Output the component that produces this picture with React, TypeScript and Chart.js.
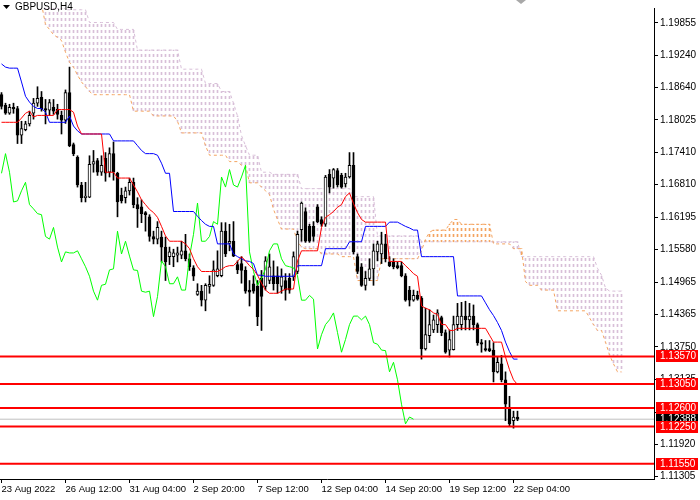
import React, { useEffect, useRef } from 'react';
import { Chart, registerables } from 'chart.js';

Chart.register(...registerables);

// GBPUSD H4 candles, bar index 0 = 23 Aug 2022 20:00
const opens = [
  1.1850, 1.1830, 1.1815, 1.1826, 1.1824, 1.1774, 1.1784, 1.1795, 1.1815, 1.1834,
  1.1845, 1.1824, 1.1821, 1.1826, 1.1823, 1.1811, 1.1802, 1.1854, 1.1756, 1.1732,
  1.1680, 1.1656, 1.1657, 1.1719, 1.1726, 1.1704, 1.1730, 1.1704, 1.1739, 1.1702,
  1.1661, 1.1656, 1.1669, 1.1685, 1.1643, 1.1639, 1.1628, 1.1620, 1.1583, 1.1578,
  1.1582, 1.1563, 1.1545, 1.1545, 1.1548, 1.1548, 1.1556, 1.1541, 1.1524, 1.1474,
  1.1480, 1.1463, 1.1489, 1.1491, 1.1509, 1.1509, 1.1593, 1.1570, 1.1574, 1.1530,
  1.1532, 1.1519, 1.1482, 1.1494, 1.1489, 1.1504, 1.1489, 1.1500, 1.1509, 1.1509,
  1.1489, 1.1500, 1.1504, 1.1507, 1.1517, 1.1596, 1.1630, 1.1602, 1.1602, 1.1639,
  1.1615, 1.1606, 1.1700, 1.1693, 1.1707, 1.1698, 1.1682, 1.1695, 1.1717, 1.1545,
  1.1526, 1.1491, 1.1504, 1.1522, 1.1554, 1.1550, 1.1569, 1.1535, 1.1535, 1.1528,
  1.1528, 1.1509, 1.1482, 1.1463, 1.1472, 1.1467, 1.1371, 1.1396, 1.1407, 1.1417,
  1.1430, 1.1402, 1.1369, 1.1370, 1.1417, 1.1417, 1.1433, 1.1426, 1.1433, 1.1417,
  1.1383, 1.1372, 1.1372, 1.1369, 1.1328, 1.1343, 1.1313, 1.1260, 1.1236, 1.1243,
];
const highs = [
  1.1854, 1.1834, 1.1832, 1.1834, 1.1828, 1.1800, 1.1800, 1.1819, 1.1843, 1.1865,
  1.1856, 1.1841, 1.1841, 1.1841, 1.1832, 1.1819, 1.1859, 1.1902, 1.1759, 1.1735,
  1.1685, 1.1685, 1.1735, 1.1745, 1.1730, 1.1735, 1.1741, 1.1750, 1.1761, 1.1704,
  1.1674, 1.1676, 1.1693, 1.1693, 1.1656, 1.1652, 1.1630, 1.1624, 1.1593, 1.1611,
  1.1593, 1.1582, 1.1563, 1.1559, 1.1563, 1.1574, 1.1587, 1.1550, 1.1528, 1.1494,
  1.1491, 1.1494, 1.1509, 1.1537, 1.1556, 1.1609, 1.1609, 1.1606, 1.1611, 1.1537,
  1.1545, 1.1526, 1.1500, 1.1509, 1.1500, 1.1519, 1.1545, 1.1550, 1.1537, 1.1526,
  1.1522, 1.1513, 1.1513, 1.1554, 1.1593, 1.1648, 1.1637, 1.1606, 1.1611, 1.1643,
  1.1620, 1.1698, 1.1709, 1.1711, 1.1711, 1.1702, 1.1702, 1.1741, 1.1741, 1.1550,
  1.1532, 1.1517, 1.1541, 1.1569, 1.1574, 1.1591, 1.1587, 1.1545, 1.1541, 1.1535,
  1.1535, 1.1513, 1.1489, 1.1482, 1.1480, 1.1470, 1.1448, 1.1445, 1.1435, 1.1445,
  1.1433, 1.1407, 1.1407, 1.1433, 1.1457, 1.1459, 1.1461, 1.1457, 1.1454, 1.1420,
  1.1389, 1.1387, 1.1387, 1.1383, 1.1356, 1.1359, 1.1328, 1.1282, 1.1254, 1.1254,
];
const lows = [
  1.1823, 1.1813, 1.1813, 1.1815, 1.1758, 1.1758, 1.1782, 1.1791, 1.1804, 1.1828,
  1.1819, 1.1795, 1.1811, 1.1813, 1.1804, 1.1776, 1.1796, 1.1752, 1.1735, 1.1676,
  1.1648, 1.1648, 1.1656, 1.1704, 1.1698, 1.1698, 1.1687, 1.1695, 1.1689, 1.1620,
  1.1646, 1.1646, 1.1661, 1.1637, 1.1600, 1.1609, 1.1593, 1.1574, 1.1569, 1.1569,
  1.1535, 1.1500, 1.1530, 1.1526, 1.1535, 1.1541, 1.1537, 1.1519, 1.1500, 1.1472,
  1.1452, 1.1443, 1.1476, 1.1489, 1.1507, 1.1507, 1.1545, 1.1556, 1.1545, 1.1513,
  1.1495, 1.1476, 1.1452, 1.1476, 1.1415, 1.1406, 1.1482, 1.1494, 1.1482, 1.1476,
  1.1476, 1.1463, 1.1476, 1.1500, 1.1513, 1.1574, 1.1572, 1.1572, 1.1574, 1.1609,
  1.1602, 1.1602, 1.1665, 1.1674, 1.1676, 1.1674, 1.1676, 1.1693, 1.1550, 1.1513,
  1.1489, 1.1482, 1.1500, 1.1491, 1.1537, 1.1532, 1.1535, 1.1526, 1.1522, 1.1522,
  1.1507, 1.1461, 1.1452, 1.1461, 1.1463, 1.1352, 1.1369, 1.1383, 1.1402, 1.1402,
  1.1396, 1.1363, 1.1356, 1.1369, 1.1406, 1.1407, 1.1407, 1.1407, 1.1407, 1.1378,
  1.1365, 1.1367, 1.1366, 1.1309, 1.1326, 1.1309, 1.1236, 1.1226, 1.1222, 1.1236,
];
const closes = [
  1.1828, 1.1815, 1.1826, 1.1823, 1.1774, 1.1786, 1.1795, 1.1811, 1.1834, 1.1843,
  1.1823, 1.1821, 1.1835, 1.1819, 1.1813, 1.1802, 1.1854, 1.1754, 1.1739, 1.1680,
  1.1656, 1.1659, 1.1719, 1.1724, 1.1704, 1.1717, 1.1702, 1.1739, 1.1704, 1.1648,
  1.1650, 1.1669, 1.1685, 1.1643, 1.1635, 1.1626, 1.1624, 1.1583, 1.1578, 1.1600,
  1.1563, 1.1535, 1.1554, 1.1552, 1.1552, 1.1556, 1.1541, 1.1526, 1.1508, 1.1480,
  1.1463, 1.1491, 1.1493, 1.1520, 1.1522, 1.1593, 1.1550, 1.1574, 1.1546, 1.1520,
  1.1519, 1.1480, 1.1478, 1.1480, 1.1432, 1.1470, 1.1537, 1.1526, 1.1494, 1.1494,
  1.1507, 1.1482, 1.1482, 1.1545, 1.1587, 1.1646, 1.1574, 1.1574, 1.1583, 1.1611,
  1.1606, 1.1695, 1.1676, 1.1709, 1.1680, 1.1676, 1.1695, 1.1717, 1.1554, 1.1517,
  1.1491, 1.1504, 1.1522, 1.1556, 1.1569, 1.1569, 1.1541, 1.1528, 1.1526, 1.1524,
  1.1509, 1.1463, 1.1463, 1.1472, 1.1465, 1.1371, 1.1398, 1.1417, 1.1426, 1.1439,
  1.1402, 1.1365, 1.1389, 1.1417, 1.1433, 1.1433, 1.1426, 1.1433, 1.1417, 1.1383,
  1.1380, 1.1369, 1.1368, 1.1328, 1.1346, 1.1313, 1.1267, 1.1230, 1.1243, 1.12388,
];

// Ichimoku lines
const tenkan = [
  1.1798, 1.1798, 1.1798, 1.1798, 1.1798, 1.1806, 1.1815, 1.1819, 1.1808, 1.1811,
  1.1811, 1.1811, 1.1811, 1.1811, 1.1822, 1.1822, 1.1822, 1.1822, 1.1817, 1.1791,
  1.1776, 1.1776, 1.1776, 1.1776, 1.1776, 1.1776, 1.1704, 1.1704, 1.1704, 1.1693,
  1.1693, 1.1693, 1.1693, 1.1680, 1.1667, 1.1652, 1.1643, 1.1634, 1.1628, 1.1619,
  1.1602, 1.1584, 1.1574, 1.1574, 1.1574, 1.1574, 1.1569, 1.1560, 1.1541, 1.1526,
  1.1517, 1.1517, 1.1517, 1.1517, 1.1517, 1.1521, 1.1526, 1.1528, 1.1528, 1.1536,
  1.1545, 1.1537, 1.1528, 1.1521, 1.1510, 1.1495, 1.1482, 1.1476, 1.1476, 1.1476,
  1.1480, 1.1484, 1.1484, 1.1484, 1.1537, 1.1556, 1.1556, 1.1556, 1.1556, 1.1556,
  1.1600, 1.1619, 1.1624, 1.1630, 1.1638, 1.1643, 1.1658, 1.1665, 1.1645, 1.1628,
  1.1615, 1.1610, 1.1610, 1.1610, 1.1610, 1.1610, 1.1610, 1.1536, 1.1536, 1.1536,
  1.1536, 1.1528, 1.1521, 1.1513, 1.1508, 1.1452, 1.1448, 1.1445, 1.1439, 1.1436,
  1.1417, 1.1417, 1.1406, 1.1406, 1.1410, 1.1410, 1.1410, 1.1410, 1.1410, 1.1410,
  1.1410, 1.1410, 1.1397, 1.1384, 1.1384, 1.1384, 1.1356, 1.1332, 1.1313, 1.1304,
];
const kijun = [
  1.1908, 1.1902, 1.1900, 1.1900, 1.1900, 1.1874, 1.1847, 1.1836, 1.1828, 1.1824,
  1.1824, 1.1817, 1.1798, 1.1798, 1.1798, 1.1798, 1.1798, 1.1810, 1.1791, 1.1782,
  1.1776, 1.1776, 1.1776, 1.1776, 1.1776, 1.1776, 1.1776, 1.1776, 1.1763, 1.1763,
  1.1763, 1.1763, 1.1763, 1.1763, 1.1754, 1.1745, 1.1739, 1.1739, 1.1739, 1.1736,
  1.1721, 1.1702, 1.1702, 1.1630, 1.1630, 1.1630, 1.1630, 1.1630, 1.1630, 1.1621,
  1.1613, 1.1606, 1.1602, 1.1602, 1.1569, 1.1569, 1.1569, 1.1569, 1.1550, 1.1545,
  1.1541, 1.1537, 1.1536, 1.1532, 1.1510, 1.1510, 1.1508, 1.1508, 1.1508, 1.1508,
  1.1508, 1.1508, 1.1508, 1.1508, 1.1528, 1.1528, 1.1528, 1.1528, 1.1528, 1.1528,
  1.1528, 1.1560, 1.1560, 1.1560, 1.1560, 1.1560, 1.1560, 1.1573, 1.1573, 1.1573,
  1.1573, 1.1602, 1.1602, 1.1602, 1.1602, 1.1602, 1.1602, 1.1610, 1.1610, 1.1610,
  1.1606, 1.1602, 1.1599, 1.1595, 1.1595, 1.1545, 1.1545, 1.1545, 1.1545, 1.1545,
  1.1545, 1.1545, 1.1545, 1.1545, 1.1471, 1.1471, 1.1471, 1.1471, 1.1471, 1.1471,
  1.1471, 1.1458, 1.1445, 1.1434, 1.1421, 1.1406, 1.1384, 1.1366, 1.1352, 1.1352,
];
// Senkou spans, already shifted 26 bars forward (null = off the top of the chart)
const spanA = [
  null, null, null, null, null, null, null, null, null, null,
  1.2021, 1.1982, 1.1973, 1.1963, 1.1958, 1.1952, 1.1930, 1.1911, 1.1902, 1.1887,
  1.1874, 1.1865, 1.1856, 1.1850, 1.1850, 1.1850, 1.1850, 1.1850, 1.1850, 1.1850,
  1.1850, 1.1850, 1.1850, 1.1819, 1.1819, 1.1819, 1.1819, 1.1819, 1.1810, 1.1810,
  1.1810, 1.1810, 1.1810, 1.1810, 1.1800, 1.1778, 1.1778, 1.1778, 1.1778, 1.1778,
  1.1778, 1.1754, 1.1736, 1.1736, 1.1736, 1.1736, 1.1736, 1.1724, 1.1724, 1.1724,
  1.1717, 1.1717, 1.1684, 1.1684, 1.1684, 1.1676, 1.1669, 1.1662, 1.1634, 1.1615,
  1.1597, 1.1597, 1.1597, 1.1597, 1.1574, 1.1563, 1.1560, 1.1560, 1.1560, 1.1560,
  1.1550, 1.1550, 1.1550, 1.1550, 1.1550, 1.1545, 1.1545, 1.1545, 1.1545, 1.1500,
  1.1500, 1.1500, 1.1500, 1.1500, 1.1500, 1.1541, 1.1541, 1.1541, 1.1541, 1.1541,
  1.1541, 1.1541, 1.1541, 1.1541, 1.1541, 1.1556, 1.1578, 1.1591, 1.1595, 1.1595,
  1.1595, 1.1595, 1.1606, 1.1615, 1.1615, 1.1606, 1.1606, 1.1606, 1.1606, 1.1606,
  1.1606, 1.1606, 1.1606, 1.1569, 1.1569, 1.1569, 1.1569, 1.1569, 1.1560, 1.1560,
  1.1560, 1.1498, 1.1491, 1.1491, 1.1491, 1.1482, 1.1482, 1.1482, 1.1482, 1.1443,
  1.1443, 1.1443, 1.1443, 1.1443, 1.1443, 1.1443, 1.1443, 1.1430, 1.1417, 1.1406,
  1.1406, 1.1384, 1.1360, 1.1343, 1.1328, 1.1328,
];
const spanB = [
  null, null, null, null, null, null, null, null, null, null,
  null, 1.2019, 1.2019, 1.2019, 1.2019, 1.2019, 1.2010, 1.2010, 1.2010, 1.2010,
  1.2010, 1.2010, 1.1986, 1.1986, 1.1986, 1.1986, 1.1986, 1.1986, 1.1986, 1.1973,
  1.1973, 1.1973, 1.1973, 1.1973, 1.1934, 1.1934, 1.1934, 1.1934, 1.1934, 1.1934,
  1.1934, 1.1934, 1.1934, 1.1934, 1.1934, 1.1898, 1.1898, 1.1898, 1.1898, 1.1898,
  1.1898, 1.1871, 1.1871, 1.1871, 1.1871, 1.1856, 1.1856, 1.1856, 1.1834, 1.1810,
  1.1773, 1.1754, 1.1736, 1.1736, 1.1736, 1.1704, 1.1704, 1.1704, 1.1700, 1.1700,
  1.1700, 1.1700, 1.1700, 1.1700, 1.1700, 1.1673, 1.1673, 1.1673, 1.1673, 1.1673,
  1.1673, 1.1673, 1.1673, 1.1673, 1.1673, 1.1673, 1.1673, 1.1673, 1.1658, 1.1658,
  1.1658, 1.1658, 1.1658, 1.1658, 1.1584, 1.1584, 1.1584, 1.1584, 1.1584, 1.1584,
  1.1584, 1.1584, 1.1584, 1.1584, 1.1584, 1.1574, 1.1573, 1.1573, 1.1573, 1.1573,
  1.1573, 1.1573, 1.1573, 1.1573, 1.1573, 1.1573, 1.1573, 1.1573, 1.1573, 1.1573,
  1.1573, 1.1573, 1.1573, 1.1573, 1.1573, 1.1573, 1.1573, 1.1573, 1.1573, 1.1573,
  1.1545, 1.1545, 1.1545, 1.1545, 1.1545, 1.1545, 1.1545, 1.1545, 1.1545, 1.1545,
  1.1545, 1.1545, 1.1545, 1.1545, 1.1545, 1.1545, 1.1545, 1.1545, 1.1545, 1.1523,
  1.1510, 1.1486, 1.1480, 1.1480, 1.1480, 1.1480,
];

const levelPrices = [1.1357, 1.1305, 1.126, 1.1225, 1.1155];
const currentPrice = 1.12388;
const priceTicks = [
  1.19855, 1.1924, 1.1864, 1.18025, 1.1741, 1.1681, 1.16195, 1.1558,
  1.14965, 1.14365, 1.1375, 1.13135, 1.1252, 1.1192, 1.11305,
];
const timeTickBars = [0, 16, 32, 48, 64, 80, 96, 112, 128];
const timeTickLabels = [
  '23 Aug 2022', '26 Aug 12:00', '31 Aug 04:00', '2 Sep 20:00', '7 Sep 12:00',
  '12 Sep 04:00', '14 Sep 20:00', '19 Sep 12:00', '22 Sep 04:00',
];
const symbolTitle = 'GBPUSD,H4';
const chikouShift = 26;

const X_MIN = -0.375;
const X_MAX = X_MIN + 654 / 4;
const Y_MIN = 1.11262;
const Y_MAX = 1.20133;
const FONT_FAMILY = "'Liberation Sans', Arial, sans-serif";

const makeHatch = (color: string) => {
  const c = document.createElement('canvas');
  c.width = 1;
  c.height = 6;
  const g = c.getContext('2d')!;
  g.fillStyle = color;
  g.fillRect(0, 0, 1, 3);
  return g.createPattern(c, 'repeat')!;
};

const overlay = {
  id: 'mtOverlay',
  afterDraw(chart: any) {
    const { ctx } = chart;
    const y = chart.scales.y;
    ctx.save();
    ctx.font = `10px ${FONT_FAMILY}`;
    ctx.textBaseline = 'middle';
    ctx.textAlign = 'left';

    ctx.fillStyle = '#000';
    ctx.beginPath();
    ctx.moveTo(3, 5);
    ctx.lineTo(10, 5);
    ctx.lineTo(6.5, 9);
    ctx.closePath();
    ctx.fill();
    ctx.fillText(symbolTitle, 15, 7);

    ctx.fillStyle = '#a8a8a8';
    ctx.beginPath();
    ctx.moveTo(516, 0);
    ctx.lineTo(526, 0);
    ctx.lineTo(521, 4);
    ctx.closePath();
    ctx.fill();

    const tag = (price: number, bg: string) => {
      const py = Math.round(y.getPixelForValue(price));
      ctx.fillStyle = bg;
      ctx.fillRect(656, py - 6, 42, 12);
      ctx.fillStyle = '#fff';
      ctx.fillText(price.toFixed(5), 660, py + 0.5);
    };
    tag(currentPrice, '#000');
    levelPrices.forEach((p) => tag(p, '#ff0000'));
    ctx.restore();
  },
};

const App = () => {
  const canvasRef = useRef<HTMLCanvasElement>(null);

  useEffect(() => {
    if (!canvasRef.current) return;
    document.body.style.margin = '0';

    Chart.defaults.font.family = FONT_FAMILY;
    Chart.defaults.font.size = 10;
    Chart.defaults.color = '#000';

    const bars = closes.map((_, i) => i);
    const thistle = makeHatch('#d8bfd8');
    const sandy = makeHatch('#f4a460');

    const cloudIdx = spanA.map((_, i) => i).filter((i) => spanA[i] != null && spanB[i] != null);
    const bearCloud = cloudIdx
      .filter((i) => (spanB[i] as number) >= (spanA[i] as number))
      .map((i) => ({ x: i, y: [spanA[i], spanB[i]] }));
    const bullCloud = cloudIdx
      .filter((i) => (spanA[i] as number) > (spanB[i] as number))
      .map((i) => ({ x: i, y: [spanB[i], spanA[i]] }));

    const lineOf = (arr: (number | null)[]) =>
      arr.map((v, i) => ({ x: i, y: v })).filter((p) => p.y != null);

    const lineBase = {
      type: 'line' as const,
      pointRadius: 0,
      pointHoverRadius: 0,
      borderWidth: 1,
      tension: 0,
      fill: false,
    };
    const barBase = {
      grouped: false,
      borderSkipped: false,
      minBarLength: 1,
    };

    const chart = new Chart(canvasRef.current, {
      type: 'bar',
      data: {
        datasets: [
          { ...barBase, label: 'cloud down', data: bearCloud, backgroundColor: thistle, barThickness: 1, borderWidth: 0, order: 12 },
          { ...barBase, label: 'cloud up', data: bullCloud, backgroundColor: sandy, barThickness: 1, borderWidth: 0, order: 12 },
          { ...lineBase, label: 'Senkou Span A', data: lineOf(spanA), borderColor: '#f4a460', borderDash: [3, 3], order: 11 },
          { ...lineBase, label: 'Senkou Span B', data: lineOf(spanB), borderColor: '#d8bfd8', borderDash: [3, 3], order: 11 },
          {
            ...lineBase,
            label: 'Bid',
            data: [{ x: X_MIN, y: currentPrice }, { x: X_MAX, y: currentPrice }],
            borderColor: '#c0c0c0',
            order: 10,
          },
          {
            ...barBase,
            label: 'wicks',
            data: bars.map((i) => ({ x: i, y: [lows[i], highs[i]] })),
            backgroundColor: '#000',
            borderWidth: 0,
            barThickness: 1,
            order: 8,
          },
          {
            ...barBase,
            label: 'bodies',
            data: bars.map((i) => ({ x: i, y: [opens[i], closes[i]] })),
            backgroundColor: bars.map((i) => (closes[i] >= opens[i] ? '#ffffff' : '#000000')),
            borderColor: '#000',
            borderWidth: 1,
            barThickness: 3,
            order: 7,
          },
          {
            ...lineBase,
            label: 'Chikou Span',
            data: bars.slice(0, bars.length - chikouShift).map((i) => ({ x: i, y: closes[i + chikouShift] })),
            borderColor: '#00ff00',
            order: 5,
          },
          { ...lineBase, label: 'Kijun-sen', data: lineOf(kijun), borderColor: '#0000ff', order: 4 },
          { ...lineBase, label: 'Tenkan-sen', data: lineOf(tenkan), borderColor: '#ff0000', order: 3 },
          ...levelPrices.map((lv) => ({
            ...lineBase,
            label: lv.toFixed(5),
            data: [{ x: X_MIN, y: lv }, { x: X_MAX, y: lv }],
            borderColor: '#ff0000',
            borderWidth: 2,
            order: 1,
          })),
        ] as any,
      },
      options: {
        animation: false,
        responsive: false,
        devicePixelRatio: 1,
        events: [],
        layout: { padding: 0, autoPadding: false },
        plugins: {
          legend: { display: false },
          tooltip: { enabled: false },
        },
        scales: {
          x: {
            type: 'linear',
            min: X_MIN,
            max: X_MAX,
            offset: false,
            border: { display: true, color: '#000', width: 1 },
            grid: { display: true, drawOnChartArea: false, drawTicks: true, tickLength: 4, color: '#000', offset: false },
            ticks: {
              autoSkip: false,
              maxRotation: 0,
              minRotation: 0,
              align: 'start',
              padding: 1,
              color: '#000',
              font: { size: 9.5 },
              callback: (v: any) => {
                const k = timeTickBars.indexOf(Number(v));
                return k >= 0 ? timeTickLabels[k] : '';
              },
            },
            afterBuildTicks: (s: any) => {
              s.ticks = timeTickBars.map((v) => ({ value: v }));
            },
            afterFit: (s: any) => {
              s.height = 21;
            },
          },
          y: {
            type: 'linear',
            position: 'right',
            min: Y_MIN,
            max: Y_MAX,
            border: { display: true, color: '#000', width: 1 },
            grid: { display: true, drawOnChartArea: false, drawTicks: true, tickLength: 4, color: '#000' },
            ticks: {
              autoSkip: false,
              padding: 2,
              color: '#000',
              font: { size: 10 },
              callback: (v: any) => Number(v).toFixed(5),
            },
            afterBuildTicks: (s: any) => {
              s.ticks = priceTicks.map((v) => ({ value: v }));
            },
            afterFit: (s: any) => {
              s.width = 46;
            },
          },
        },
      } as any,
      plugins: [overlay],
    });

    return () => {
      chart.destroy();
    };
  }, []);

  return (
    <div style={{ width: 700, height: 500, background: '#fff' }}>
      <canvas ref={canvasRef} width={700} height={500} style={{ display: 'block' }} />
    </div>
  );
};

export default App;
